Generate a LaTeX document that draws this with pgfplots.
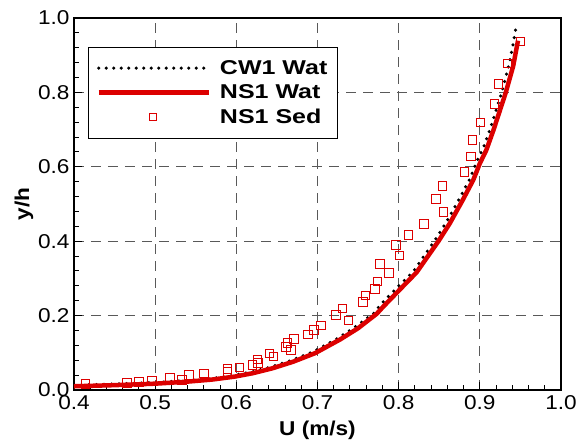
\documentclass[border=0pt]{standalone}
\usepackage{fontspec}
\setmainfont{Liberation Sans}
\usepackage{pgfplots}
\pgfplotsset{compat=1.18}
\definecolor{myred}{RGB}{220,0,0}
\newcommand{\widen}[1]{\scalebox{1.13}[1]{#1}}
\newcommand{\widenL}[1]{\scalebox{1.25}[1]{#1}}
\begin{document}
\begin{tikzpicture}
\begin{axis}[
  scale only axis,
  width=487pt, height=372pt,
  xmin=0.4, xmax=1.0, ymin=0, ymax=1.0,
  xtick={0.4,0.5,...,1.0}, ytick={0,0.2,...,1.0},
  minor x tick num=4, minor y tick num=4,
  xtick pos=left, ytick pos=left,
  tick align=inside,
  major tick length=8pt, minor tick length=5pt,
  tick style={black, line width=1pt},
  axis line style={line width=2pt},
  grid=major,
  major grid style={black!65, dash pattern=on 10pt off 7pt, line width=1pt},
  xticklabel={\widen{\pgfmathprintnumber[fixed,fixed zerofill,precision=1,assume math mode=true]{\tick}}},
  yticklabel={\widen{\pgfmathprintnumber[fixed,fixed zerofill,precision=1,assume math mode=true]{\tick}}},
  ticklabel style={font=\fontsize{20}{22}\selectfont},
  xticklabel style={yshift=-2pt},
  yticklabel style={xshift=-1pt},
  xlabel={\widen{\textbf{U (m/s)}}}, ylabel={\widen{\textbf{y/h}}},
  label style={font=\fontsize{20}{22}\selectfont},
  xlabel style={yshift=-4pt},
  ylabel style={yshift=-2pt},
  legend style={at={(14pt,343pt)}, anchor=north west, draw=black, line width=1pt,
    font=\fontsize{20}{22}\selectfont\bfseries, row sep=5pt,
    inner xsep=8pt, inner ysep=11pt, cells={anchor=west},
    /tikz/every odd column/.append style={column sep=7pt}},
  legend cell align=left,
  legend image code/.code={\draw[#1] (0pt,0pt) -- (110pt,0pt);},
]
\addplot[black, line width=3.5pt, line cap=round, dash pattern=on 0pt off 7.5pt] coordinates {
(0.400,0.013) (0.450,0.016) (0.500,0.020) (0.537,0.025) (0.570,0.031)
(0.596,0.039) (0.618,0.048) (0.641,0.061) (0.667,0.079) (0.694,0.102)
(0.725,0.139) (0.746,0.169) (0.770,0.207) (0.777,0.228) (0.797,0.273)
(0.818,0.318) (0.845,0.404) (0.859,0.452) (0.875,0.515) (0.888,0.569)
(0.896,0.613) (0.904,0.649) (0.913,0.703) (0.927,0.800) (0.936,0.875)
(0.941,0.930) (0.944,0.968)};
\addlegendentry{\widenL{CW1 Wat}}
\addplot[myred, line width=4.5pt] coordinates {
(0.400,0.010) (0.450,0.013) (0.500,0.017) (0.537,0.022) (0.570,0.028)
(0.598,0.036) (0.620,0.045) (0.644,0.058) (0.670,0.076) (0.697,0.099)
(0.728,0.136) (0.750,0.166) (0.773,0.205) (0.781,0.224) (0.801,0.269)
(0.822,0.316) (0.849,0.400) (0.863,0.448) (0.879,0.511) (0.892,0.565)
(0.900,0.609) (0.908,0.645) (0.917,0.700) (0.932,0.800) (0.941,0.870)
(0.947,0.939)};
\addlegendentry{\widenL{NS1 Wat}}
\addplot[only marks, mark=square, mark size=4.3pt, myred, mark options={line width=1pt},
  legend image code/.code={\draw[myred, line width=1pt] (51pt,-3.5pt) rectangle (58pt,3.5pt);}] coordinates {
(0.414,0.016) (0.465,0.018) (0.480,0.021) (0.496,0.026) (0.518,0.034)
(0.533,0.027) (0.542,0.041) (0.560,0.044) (0.589,0.056) (0.589,0.048)
(0.604,0.061) (0.620,0.067) (0.626,0.082) (0.627,0.073) (0.641,0.098)
(0.646,0.090) (0.661,0.116) (0.663,0.127) (0.667,0.107) (0.671,0.137)
(0.688,0.149) (0.696,0.161) (0.704,0.173) (0.723,0.202) (0.731,0.219)
(0.738,0.187) (0.756,0.236) (0.759,0.254) (0.771,0.272) (0.774,0.292)
(0.788,0.315) (0.777,0.338) (0.801,0.362) (0.797,0.389) (0.812,0.417)
(0.831,0.446) (0.855,0.478) (0.846,0.513) (0.854,0.549) (0.881,0.586)
(0.889,0.628) (0.891,0.672) (0.901,0.719) (0.918,0.769) (0.923,0.823)
(0.934,0.878) (0.950,0.937)};
\addlegendentry{\widenL{NS1 Sed}}
\end{axis}
\pgfresetboundingbox
\path[use as bounding box] (current axis.south west) ++(-74pt,-53pt) rectangle ++(581pt,443pt);
\end{tikzpicture}
\end{document}
